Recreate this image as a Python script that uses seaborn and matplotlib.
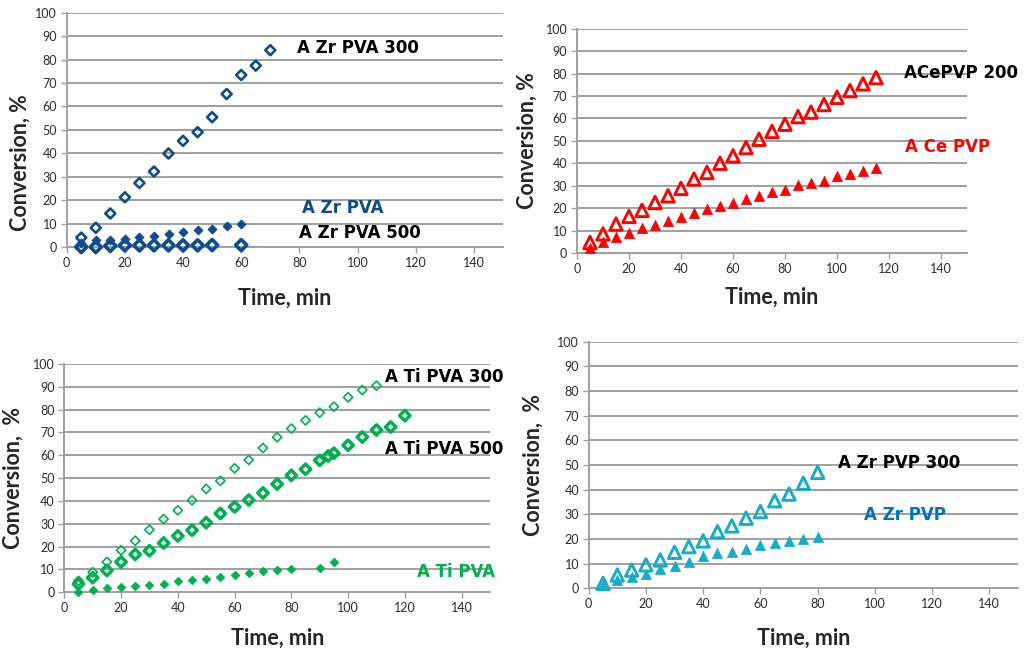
import matplotlib
matplotlib.use("Agg")
import matplotlib.pyplot as plt
import seaborn as sns
import numpy as np
import pandas as pd

# ---------------- data ----------------
# Panel 1: Zr PVA
zr_pva300_t = [5, 10, 15, 20, 25, 30, 35, 40, 45, 50, 55, 60, 65, 70]
zr_pva300_c = [4, 8.2, 14.3, 21.2, 27.3, 32.2, 39.9, 45.3, 49, 55.4, 65.3, 73.4, 77.4, 84]
zr_pva_t = [5, 10, 15, 20, 25, 30, 35, 40, 45, 50, 55, 60]
zr_pva_c = [1.5, 2.8, 3.1, 3.6, 4.3, 4.5, 5.5, 6.4, 7.2, 7.7, 8.8, 9.7]
zr_pva500_t = [5, 10, 15, 20, 25, 30, 35, 40, 45, 50, 60]
zr_pva500_c = [0, 0, 0.5, 0.7, 0.7, 0.7, 0.7, 0.7, 0.7, 0.8, 0.8]

# Panel 2: Ce PVP
ce_pvp200_t = list(range(5, 120, 5))
ce_pvp200_c = [4.7, 8.5, 12.9, 16.3, 19, 22.5, 25.5, 28.8, 33, 35.9, 40, 43.3,
               47, 50.7, 54.2, 57.4, 60.8, 62.8, 66.2, 69.4, 72.4, 75.4, 78.2]
ce_pvp_t = list(range(5, 120, 5))
ce_pvp_c = [2.2, 4.7, 7.1, 9, 11.1, 12.5, 14.2, 15.9, 17.8, 19.6, 20.9, 22.3,
            24, 25.4, 27, 28.2, 30.1, 31.2, 32.2, 34.3, 35.2, 36.4, 37.8]

# Panel 3: Ti PVA
ti_pva300_t = list(range(5, 115, 5))
ti_pva300_c = [5, 8.8, 13.3, 18.4, 22.6, 27.4, 32.1, 35.9, 40.3, 45.3, 48.8,
               54.3, 58, 63.2, 67.9, 71.7, 75.3, 78.7, 81.3, 85.4, 88.6, 90.5]
ti_pva500_t = [5, 10, 15, 20, 25, 30, 35, 40, 45, 50, 55, 60, 65, 70, 75, 80,
               85, 90, 93, 95, 100, 105, 110, 115, 120]
ti_pva500_c = [3.6, 6.4, 9.6, 13.3, 16.6, 18.2, 21.6, 24.7, 27.2, 30.5, 34.5,
               37.4, 40.4, 43.5, 47.4, 51.2, 53.9, 57.8, 59.7, 60.9, 64.4, 68,
               71.1, 72.4, 77.4]
ti_pva_t = [5, 10, 15, 20, 25, 30, 35, 40, 45, 50, 55, 60, 65, 70, 75, 80, 90, 95]
ti_pva_c = [0, 1, 1.8, 2.2, 2.6, 3.2, 3.8, 5.1, 5.4, 6, 6.7, 7.7, 8.3, 9.2,
            9.8, 10.2, 10.8, 13.1]

# Panel 4: Zr PVP
zr_pvp300_t = list(range(5, 85, 5))
zr_pvp300_c = [2, 5.4, 7.4, 9.5, 11.5, 14.6, 16.9, 19.2, 23, 25.3, 28.4, 31.1,
               35.5, 38.2, 42.6, 47]
zr_pvp_t = list(range(5, 85, 5))
zr_pvp_c = [1.4, 3.4, 4.5, 5.8, 7.7, 9, 10.8, 13.1, 14.2, 14.9, 15.9, 17.6,
            18.2, 19, 19.9, 20.7]

x_ticks = [0, 20, 40, 60, 80, 100, 120, 140]
y_ticks = [0, 10, 20, 30, 40, 50, 60, 70, 80, 90, 100]

BLUE = "#0e4c8a"
RED = "#ff0000"
GREEN = "#00b050"
CYAN = "#17adc6"
LBLUE = "#0070c0"
GRID = "#a0a0a0"

sns.set_style("white")
plt.rcParams["font.family"] = ["DejaVu Sans"]

W, H = 1024, 657
fig = plt.figure(figsize=(W / 100, H / 100), dpi=100)


def px_axes(l, t, r, b):
    return fig.add_axes([l / W, 1 - b / H, (r - l) / W, (b - t) / H])


def style(ax):
    ax.set_xlim(0, 150)
    ax.set_ylim(0, 100)
    ax.set_xticks(x_ticks)
    ax.set_yticks(y_ticks)
    ax.yaxis.grid(True, color=GRID, lw=1.4)
    ax.xaxis.grid(False)
    ax.set_axisbelow(True)
    for s in ["top", "right"]:
        ax.spines[s].set_visible(False)
    for s in ["left", "bottom"]:
        ax.spines[s].set_color(GRID)
        ax.spines[s].set_linewidth(1.4)
    ax.tick_params(axis="both", direction="out", length=4, width=1.0,
                   color=GRID, labelsize=9, labelcolor="#2b2b2b", pad=3,
                   bottom=True, left=True)
    for lab in ax.get_xticklabels() + ax.get_yticklabels():
        lab.set_fontfamily("Lato")
    ax.set_xlabel("")
    ax.set_ylabel("")


def scat(ax, t, c, marker, s, color, filled, lw):
    df = pd.DataFrame({"t": t, "c": c})
    if filled:
        sns.scatterplot(data=df, x="t", y="c", marker=marker, s=s, color=color,
                        edgecolor=color, linewidth=0.5, ax=ax, clip_on=False,
                        zorder=3)
    else:
        sns.scatterplot(data=df, x="t", y="c", marker=marker, s=s,
                        facecolors="none", edgecolor=color, linewidth=lw,
                        ax=ax, clip_on=False, zorder=3)


def label(ax, x, y, txt, color):
    ax.text(x, y, txt, color=color, fontsize=12, fontweight="bold",
            ha="left", va="center", clip_on=False, family="DejaVu Sans")


def axlabels(xc, yc, xl, yl, ytxt):
    fig.text(xc / W, 1 - yc / H, "Time, min", ha="center", va="center",
             fontsize=15.5, fontweight="bold", family="Lato")
    fig.text(xl / W, 1 - yl / H, ytxt, ha="center", va="center",
             rotation=90, fontsize=15.5, fontweight="bold", family="Lato")


# Panel 1
ax1 = px_axes(66.7, 12.7, 503, 247)
scat(ax1, zr_pva300_t, zr_pva300_c, "D", 26, BLUE, False, 1.9)
scat(ax1, zr_pva_t, zr_pva_c, "D", 22, BLUE, True, 0)
scat(ax1, zr_pva500_t, zr_pva500_c, "D", 32, BLUE, False, 2.6)
style(ax1)
label(ax1, 79.1, 84.8, "A Zr PVA 300", "black")
label(ax1, 80.8, 16.5, "A Zr PVA", BLUE)
label(ax1, 79.9, 5.8, "A Zr PVA 500", "black")
axlabels(285, 298, 20, 163, "Conversion, %")

# Panel 2
ax2 = px_axes(577, 28.7, 967, 253)
scat(ax2, ce_pvp200_t, ce_pvp200_c, "^", 80, RED, False, 2.1)
scat(ax2, ce_pvp_t, ce_pvp_c, "^", 55, RED, True, 0)
style(ax2)
label(ax2, 125.6, 80.4, "ACePVP 200", "black")
label(ax2, 126.0, 47.4, "A Ce PVP", RED)
axlabels(772, 297.7, 527.7, 140.7, "Conversion, %")

# Panel 3
ax3 = px_axes(64.3, 364, 490, 592.3)
scat(ax3, ti_pva300_t, ti_pva300_c, "D", 22, GREEN, False, 1.2)
scat(ax3, ti_pva500_t, ti_pva500_c, "D", 28, GREEN, False, 2.5)
scat(ax3, ti_pva_t, ti_pva_c, "D", 20, GREEN, True, 0)
style(ax3)
label(ax3, 113.0, 94.4, "A Ti PVA 300", "black")
label(ax3, 113.0, 62.6, "A Ti PVA 500", "black")
label(ax3, 124.2, 9.0, "A Ti PVA", GREEN)
axlabels(277.5, 638.3, 13.3, 478.3, "Conversion,  %")

# Panel 4
ax4 = px_axes(588.7, 341.7, 1018, 588.3)
scat(ax4, zr_pvp300_t, zr_pvp300_c, "^", 80, CYAN, False, 2.1)
scat(ax4, zr_pvp_t, zr_pvp_c, "^", 55, CYAN, True, 0)
style(ax4)
label(ax4, 87.1, 50.7, "A Zr PVP 300", "black")
label(ax4, 96.1, 29.7, "A Zr PVP", LBLUE)
axlabels(803.7, 638.3, 533.7, 465, "Conversion,  %")

fig.savefig("out.png", dpi=100)
